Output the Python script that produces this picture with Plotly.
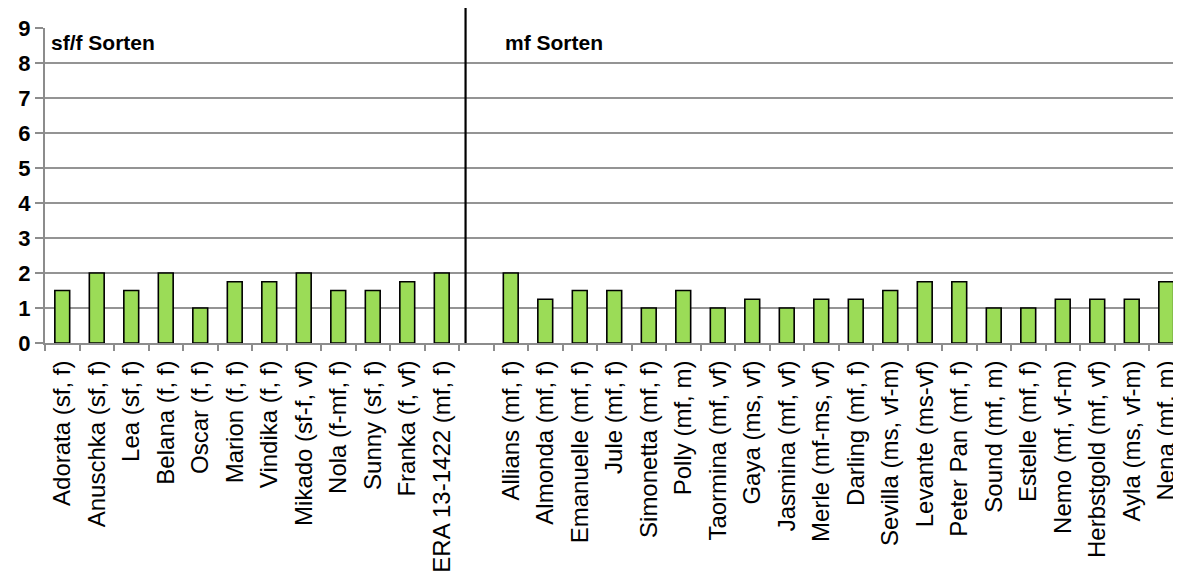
import plotly.graph_objects as go

left_names = ["Adorata (sf, f)", "Anuschka (sf, f)", "Lea (sf, f)", "Belana (f, f)",
              "Oscar (f, f)", "Marion (f, f)", "Vindika (f, f)", "Mikado (sf-f, vf)",
              "Nola (f-mf, f)", "Sunny (sf, f)", "Franka (f, vf)", "ERA 13-1422 (mf, f)"]
left_values = [1.5, 2, 1.5, 2, 1, 1.75, 1.75, 2, 1.5, 1.5, 1.75, 2]

right_names = ["Allians (mf, f)", "Almonda (mf, f)", "Emanuelle (mf, f)", "Jule (mf, f)",
               "Simonetta (mf, f)", "Polly (mf, m)", "Taormina (mf, vf)", "Gaya (ms, vf)",
               "Jasmina (mf, vf)", "Merle (mf-ms, vf)", "Darling (mf, f)", "Sevilla (ms, vf-m)",
               "Levante (ms-vf)", "Peter Pan (mf, f)", "Sound (mf, m)", "Estelle (mf, f)",
               "Nemo (mf, vf-m)", "Herbstgold (mf, vf)", "Ayla (ms, vf-m)", "Nena (mf, m)"]
right_values = [2, 1.25, 1.5, 1.5, 1, 1.5, 1, 1.25, 1, 1.25, 1.25, 1.5,
                1.75, 1.75, 1, 1, 1.25, 1.25, 1.25, 1.75]

group_labels = ["sf/f Sorten", "mf Sorten"]
y_ticks = list(range(0, 10))

gap = " "
categories = left_names + [gap] + right_names
values = left_values + [None] + right_values

# the page body has an 8px margin; compensate so the plot sits like the reference
BODY = 8
W, H = 1181 - BODY, 576 - BODY
ML, MR, MT = 45 - BODY, 0, 28 - BODY
PLOT_H = 315
MB = H - MT - PLOT_H
cat_px = 34.5
plot_w = W - ML - MR
x_end = plot_w / cat_px - 0.5

fig = go.Figure()
fig.add_trace(go.Bar(
    x=categories, y=values, width=0.43,
    marker=dict(color="#9BDC57", line=dict(color="#000000", width=1.6)),
    hoverinfo="x+y",
))

grid_col = "#8c8c8c"
fig.update_layout(
    width=W, height=H,
    margin=dict(l=ML, r=MR, t=MT, b=MB, pad=0),
    paper_bgcolor="white", plot_bgcolor="white",
    showlegend=False,
    font=dict(family="Liberation Sans, Arial, sans-serif", color="#000000"),
    xaxis=dict(
        type="category", categoryorder="array", categoryarray=categories,
        range=[-0.5, x_end],
        tickson="boundaries", ticks="outside", ticklen=6, tickwidth=2, tickcolor=grid_col,
        tickangle=-90, tickfont=dict(size=24, color="#000000"),
        ticklabelstandoff=6,
        showline=True, linecolor=grid_col, linewidth=2,
        showgrid=False, zeroline=False, fixedrange=True,
    ),
    yaxis=dict(
        range=[0, 9], tickvals=y_ticks,
        ticks="outside", ticklen=8, tickwidth=2, tickcolor=grid_col,
        tickfont=dict(size=22, color="#000000", family="Liberation Sans, Arial, sans-serif", weight="bold"),
        showline=True, linecolor=grid_col, linewidth=2,
        showgrid=True, gridcolor="#949494", gridwidth=1.8,
        zeroline=False, fixedrange=True,
    ),
)

# vertical separator between the two groups
sep_paper = (len(left_names) + 0.19) / (x_end + 0.5)
fig.add_shape(type="line", xref="paper", yref="paper",
              x0=sep_paper, x1=sep_paper, y0=0, y1=1 + 20 / PLOT_H,
              line=dict(color="#000000", width=2.2))

fig.add_annotation(x=-0.38, y=8.58, xref="x", yref="y", text="<b>" + group_labels[0] + "</b>",
                   showarrow=False, xanchor="left", yanchor="middle",
                   font=dict(size=21, color="#000000"))
fig.add_annotation(x=len(left_names) + 0.78, y=8.58, xref="x", yref="y",
                   text="<b>" + group_labels[1] + "</b>",
                   showarrow=False, xanchor="left", yanchor="middle",
                   font=dict(size=21, color="#000000"))

fig.write_html("out.html")
